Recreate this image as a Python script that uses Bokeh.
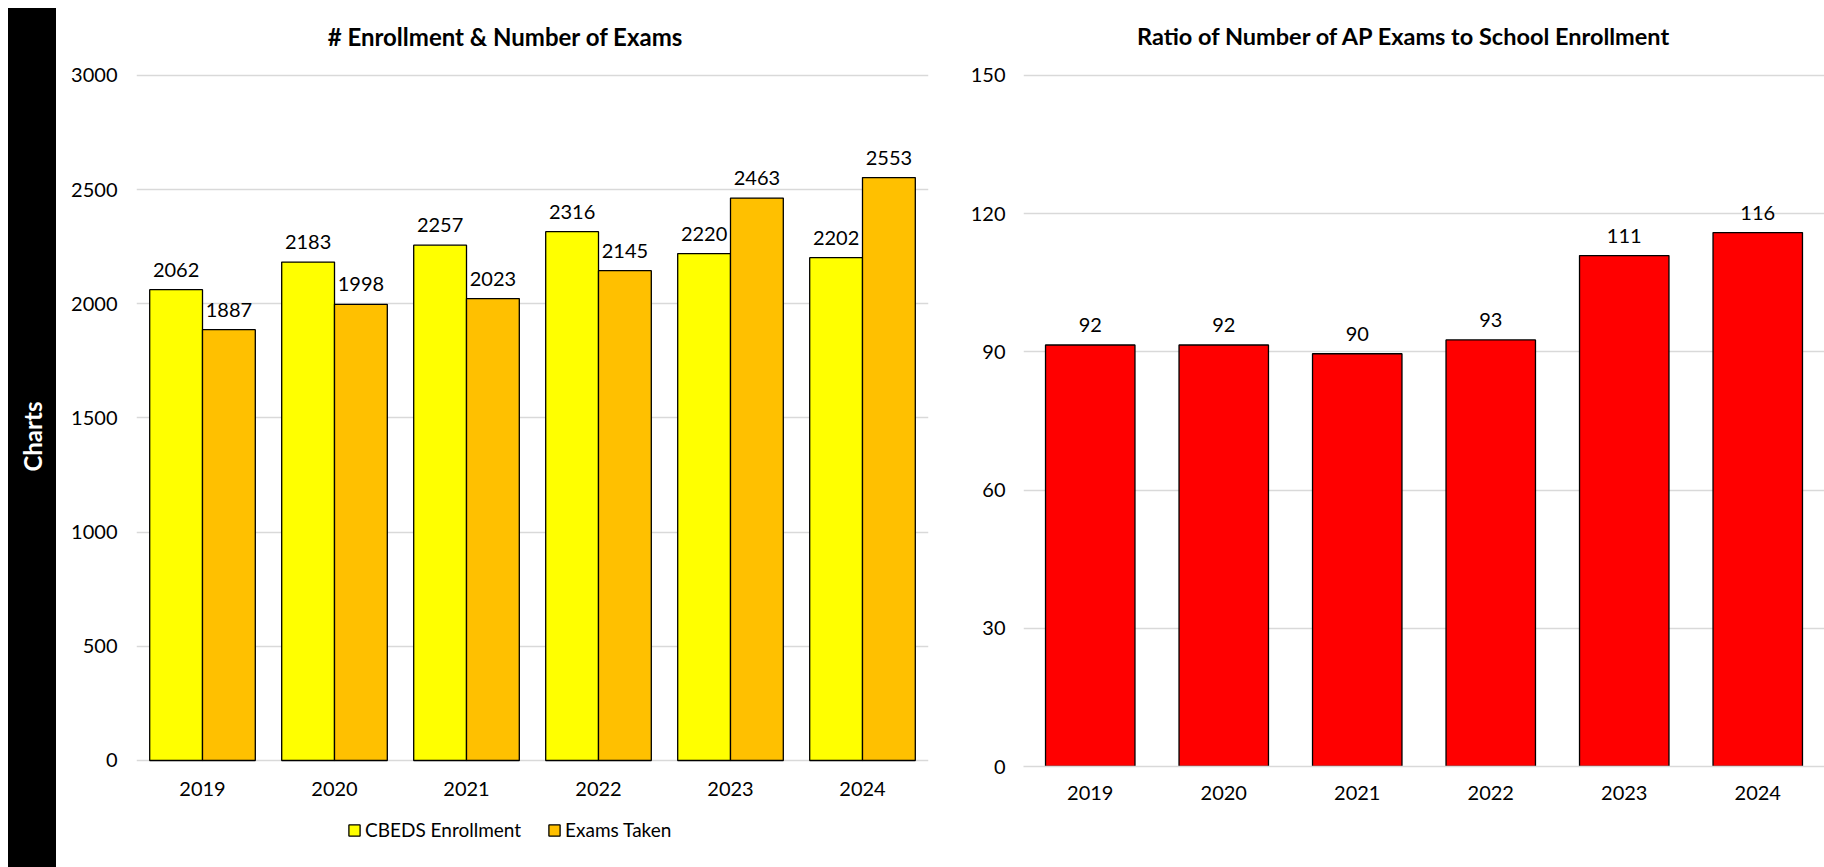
from math import pi
import numpy as np
from bokeh.plotting import figure
from bokeh.models import (ColumnDataSource, FactorRange, Range1d, LabelSet, Label,
                          Legend, LegendItem, FixedTicker)
from bokeh.core.properties import value
from bokeh.transform import dodge
from bokeh.layouts import row, column
from bokeh.embed import file_html
from bokeh.resources import INLINE

# ---------------- data ----------------
years = ["2019", "2020", "2021", "2022", "2023", "2024"]
enrollment = [2062, 2183, 2257, 2316, 2220, 2202]
exams = [1887, 1998, 2023, 2145, 2463, 2553]
ratio = [91.5, 91.5, 89.6, 92.6, 110.9, 115.9]
ratio_labels = ["92", "92", "90", "93", "111", "116"]
left_ticks = [0, 500, 1000, 1500, 2000, 2500, 3000]
right_ticks = [0, 30, 60, 90, 120, 150]
series_names = ["CBEDS Enrollment", "Exams Taken"]

FONT = "Lato"
TICK_SIZE = "20px"
GRID = "#D9D9D9"
YELLOW, ORANGE, RED = "#FFFF00", "#FFC000", "#FF0000"

H = 867
TOP = 8


def style(p, ticks, xstand):
    p.frame_align = False
    p.outline_line_color = None
    p.xgrid.grid_line_color = None
    p.ygrid.grid_line_color = GRID
    p.ygrid.grid_line_width = 1.3
    p.yaxis.ticker = FixedTicker(ticks=ticks)
    p.yaxis.axis_line_color = None
    p.yaxis.major_tick_line_color = None
    p.yaxis.minor_tick_line_color = None
    p.yaxis.major_tick_in = 0
    p.yaxis.major_tick_out = 0
    p.xaxis.axis_line_color = GRID
    p.xaxis.axis_line_width = 1.5
    p.xaxis.major_tick_line_color = None
    p.xaxis.minor_tick_line_color = None
    p.xaxis.major_tick_in = 0
    p.xaxis.major_tick_out = 0
    p.xaxis.major_label_standoff = xstand
    for ax in (p.xaxis, p.yaxis):
        ax.major_label_text_font = FONT
        ax.major_label_text_font_size = TICK_SIZE
        ax.major_label_text_color = "black"


# ---------------- black band ----------------
band = figure(width=48, height=H - 8, x_range=Range1d(0, 1), y_range=Range1d(0, 1),
              toolbar_location=None, tools="", output_backend="svg",
              x_axis_location=None, y_axis_location=None, min_border=0)
band.frame_align = False
band.margin = (8, 0, 0, 8)
band.styles = {"background-color": "black"}
band.grid.visible = False
band.background_fill_color = "black"
band.border_fill_color = "black"
band.outline_line_color = None
band.add_layout(Label(x=0.5, y=0.5017, text="Charts", angle=pi / 2,
                      text_align="center", text_baseline="middle",
                      text_color="white", text_font=FONT, text_font_style="bold",
                      text_font_size="24px"))

# ---------------- left chart ----------------
src1 = ColumnDataSource(dict(year=years, enrollment=enrollment, exams=exams,
                             enr_lab=[str(v) for v in enrollment],
                             ex_lab=[str(v) for v in exams]))
p1 = figure(width=904, height=805, x_range=FactorRange(*years),
            y_range=Range1d(-26.3, 3293.4),
            toolbar_location=None, tools="", output_backend="svg",
            min_border_left=80, min_border_right=32, min_border_top=TOP,
            min_border_bottom=39)
style(p1, left_ticks, 15)
p1.xaxis.axis_line_color = None
p1.yaxis.major_label_standoff = 19

p1.vbar(x=dodge("year", -0.2, range=p1.x_range), top="enrollment", width=0.4,
        source=src1, fill_color=YELLOW, line_color="black", line_width=1.3)
p1.vbar(x=dodge("year", 0.2, range=p1.x_range), top="exams", width=0.4,
        source=src1, fill_color=ORANGE, line_color="black", line_width=1.3)

for col, lab, off in (("enrollment", "enr_lab", -0.2), ("exams", "ex_lab", 0.2)):
    p1.add_layout(LabelSet(x=dodge("year", off, range=p1.x_range), y=col, text=lab,
                           source=src1, y_offset=20, text_align="center",
                           text_baseline="middle", text_font=value(FONT),
                           text_font_size=value(TICK_SIZE), text_color="black"))

p1.add_layout(Label(x=2.795, y=3170.8, text="# Enrollment & Number of Exams",
                    text_align="center", text_baseline="middle", text_font=FONT,
                    text_font_style="bold", text_font_size="24px", text_color="black"))

# ---------------- legend strip under the left chart ----------------
legfig = figure(width=904, height=62, x_range=Range1d(0, 1), y_range=Range1d(0, 1),
                toolbar_location=None, tools="", output_backend="svg",
                x_axis_location=None, y_axis_location=None, min_border=0)
legfig.frame_align = False
legfig.grid.visible = False
legfig.outline_line_color = None
# legend-only proxies (no visible mark: NaN position)
proxy = ColumnDataSource(dict(x=np.array([np.nan]), top=np.array([np.nan])))
lr1 = legfig.vbar(x="x", top="top", width=0.1, source=proxy,
                  fill_color=YELLOW, line_color="black", line_width=1.3)
lr2 = legfig.vbar(x="x", top="top", width=0.1, source=proxy,
                  fill_color=ORANGE, line_color="black", line_width=1.3)
legend = Legend(items=[LegendItem(label=series_names[0], renderers=[lr1]),
                       LegendItem(label=series_names[1], renderers=[lr2])],
                location=(291, 26), orientation="horizontal",
                glyph_width=14, glyph_height=14, label_standoff=4, spacing=26,
                padding=0, margin=0, border_line_color=None,
                background_fill_alpha=0, label_text_font=FONT,
                label_text_font_size="19px", label_text_color="black")
legfig.add_layout(legend, "center")

# ---------------- right chart ----------------
src2 = ColumnDataSource(dict(year=years, ratio=ratio, lab=ratio_labels))
p2 = figure(width=864, height=H, x_range=FactorRange(*years),
            y_range=Range1d(0, 164.54),
            toolbar_location=None, tools="", output_backend="svg",
            min_border_left=63, min_border_right=0, min_border_top=TOP,
            min_border_bottom=101)
style(p2, right_ticks, 19)
p2.yaxis.major_label_standoff = 18

p2.vbar(x="year", top="ratio", width=0.67, source=src2, fill_color=RED,
        line_color="black", line_width=1.3)
p2.add_layout(LabelSet(x="year", y="ratio", text="lab", source=src2, y_offset=20,
                       text_align="center", text_baseline="middle", text_font=value(FONT),
                       text_font_size=value(TICK_SIZE), text_color="black"))
p2.add_layout(Label(x=2.854, y=158.5, text="Ratio of Number of AP Exams to School Enrollment",
                    text_align="center", text_baseline="middle", text_font=FONT,
                    text_font_style="bold", text_font_size="23.5px", text_color="black"))

layout = row(band, column(p1, legfig), p2)
open("out.html", "w").write(file_html(layout, INLINE))
